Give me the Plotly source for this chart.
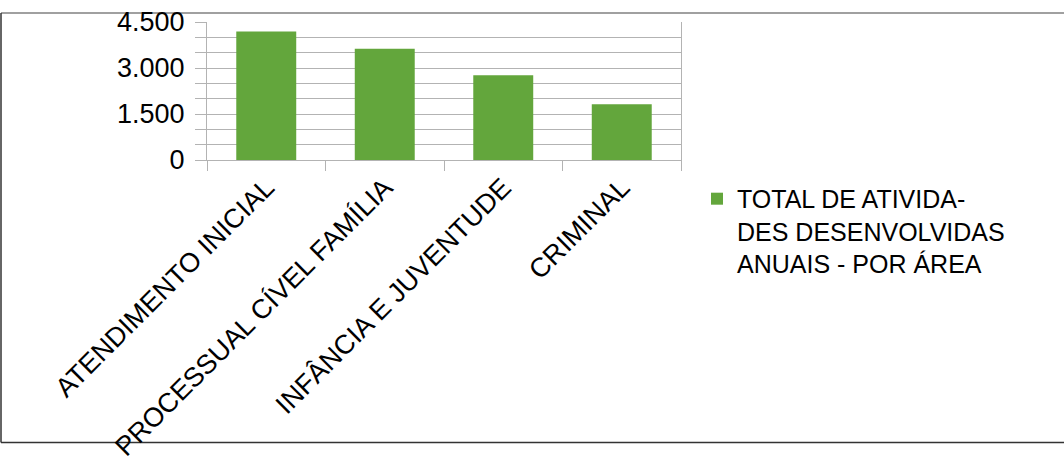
import plotly.graph_objects as go

# dados
areas = ["ATENDIMENTO INICIAL", "PROCESSUAL CÍVEL FAMÍLIA",
         "INFÂNCIA E JUVENTUDE", "CRIMINAL"]
totais = [4190, 3630, 2760, 1820]
serie_nome = "TOTAL DE ATIVIDA-<br>DES DESENVOLVIDAS<br>ANUAIS - POR ÁREA"

W, H = 1064, 462
ml, mr, mt, mb = 207, 383, 21.5, 302
pw, ph = W - ml - mr, H - mt - mb


def px_x(x):
    return (x - ml) / pw


def px_y(y):
    return (H - mb - y) / ph


fig = go.Figure()
fig.add_trace(go.Bar(
    x=areas, y=totais, name=serie_nome,
    marker=dict(color="#63a63c", line=dict(width=0)),
    width=0.506, showlegend=True,
))

grid = "#b3b3b3"
fig.update_layout(
    width=W, height=H,
    margin=dict(l=ml, r=mr, t=mt, b=mb, autoexpand=False),
    paper_bgcolor="white", plot_bgcolor="white",
    separators=",.",
    font=dict(family="Liberation Sans, Arial, sans-serif", color="black"),
    showlegend=True,
    legend=dict(x=px_x(697), y=px_y(176), xanchor="left", yanchor="top",
                font=dict(size=25), valign="top", itemwidth=30,
                bgcolor="rgba(0,0,0,0)"),
    xaxis=dict(
        tickangle=-45, tickfont=dict(size=27),
        tickson="boundaries", ticks="outside", ticklen=10, tickcolor=grid,
        showline=True, linecolor=grid, showgrid=False,
        ticklabeloverflow="allow",
    ),
    yaxis=dict(
        range=[0, 4500], dtick=1500, tickformat=",d",
        tickfont=dict(size=27), ticklabelstandoff=5,
        ticklabeloverflow="allow",
        ticks="outside", ticklen=11, tickcolor=grid,
        showgrid=True, gridcolor=grid, gridwidth=1,
        showline=True, linecolor=grid, mirror=True,
        zeroline=False,
        minor=dict(dtick=500, showgrid=True, gridcolor=grid,
                   ticks="outside", ticklen=11, tickcolor=grid),
    ),
)

# moldura do gráfico
borda = [
    (1, 12.5, 1070, 12.5, "#808080"),
    (1, 12.5, 1, 443.5, "#333333"),
    (1, 443.5, 1070, 443.5, "#333333"),
]
for x0, y0, x1, y1, cor in borda:
    fig.add_shape(type="line", xref="paper", yref="paper",
                  x0=px_x(x0), y0=px_y(y0), x1=px_x(x1), y1=px_y(y1),
                  line=dict(color=cor, width=1.5), layer="below")

fig.write_html("out.html", config={"displayModeBar": False},
               post_script="document.body.style.margin='0';")
